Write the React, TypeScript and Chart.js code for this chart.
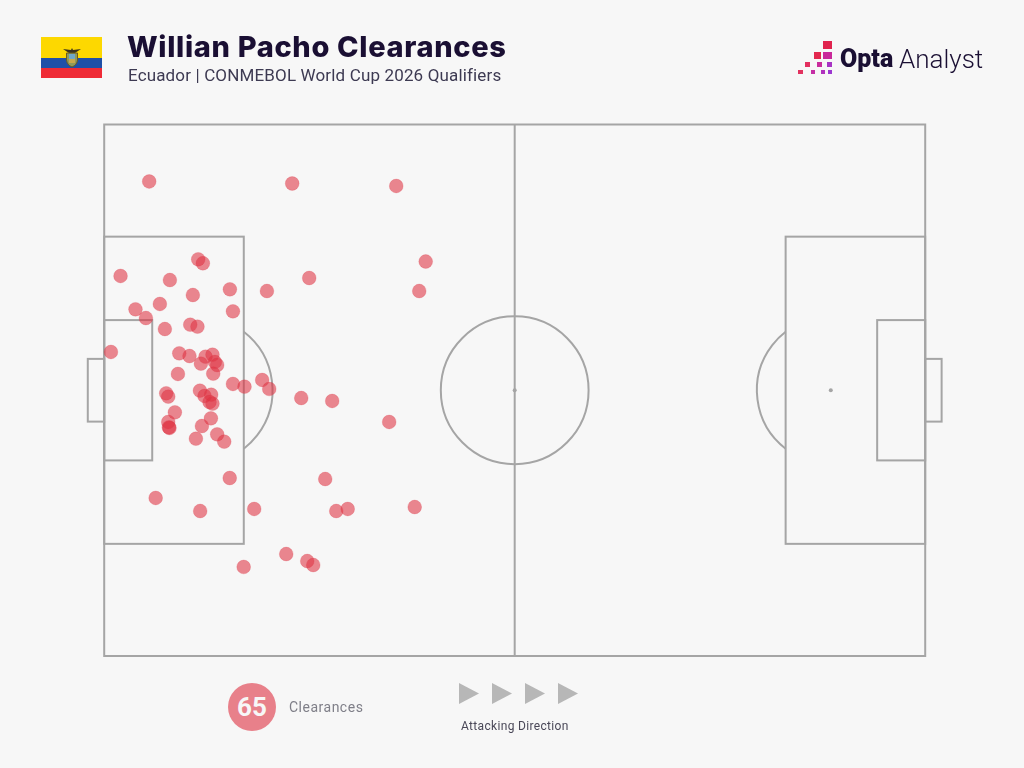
import React, { useEffect, useRef } from "react";
import { Chart, registerables } from "chart.js";

Chart.register(...registerables);

const playerName = "Willian Pacho Clearances";
const subtitle = "Ecuador | CONMEBOL World Cup 2026 Qualifiers";
const legendCount = "65";
const legendLabel = "Clearances";
const directionLabel = "Attacking Direction";

// Clearance locations in pitch units (0–100 on each axis)
const clearanceX = [
  5.48, 22.9, 35.57, 11.45, 12.02, 1.99, 8.0, 10.8, 15.31, 19.82, 6.78, 3.81, 5.08, 15.68, 7.39, 10.48, 11.36,
  0.82, 9.14, 10.39, 12.34, 13.19, 11.78, 13.48, 13.76, 13.28, 8.98, 15.68, 17.09, 19.24, 20.1, 7.55, 7.8,
  11.66, 12.22, 13.03, 12.83, 13.19, 8.61, 13.0, 7.8, 7.88, 7.95, 11.9, 11.17, 13.76, 14.62, 24.0, 27.77,
  34.71, 39.16, 38.37, 24.97, 15.29, 26.92, 6.27, 11.69, 18.27, 28.26, 29.66, 37.82, 22.17, 24.73, 25.46, 16.99,
];
const clearanceY = [
  89.28, 88.9, 88.43, 74.64, 73.89, 71.5, 70.74, 67.92, 68.99, 68.67, 66.23, 65.23, 63.59, 64.85, 61.52, 62.33, 61.96,
  57.2, 56.95, 56.44, 56.31, 56.69, 55.0, 55.32, 54.75, 53.11, 53.06, 51.18, 50.67, 51.93, 50.24, 49.43, 48.79,
  49.92, 48.92, 49.16, 47.79, 47.47, 45.85, 44.72, 44.03, 43.03, 42.9, 43.27, 40.88, 41.71, 40.32, 48.54, 47.98,
  44.03, 74.22, 68.67, 71.12, 33.49, 33.3, 29.73, 27.28, 27.66, 27.28, 27.66, 28.03, 19.19, 17.87, 17.12, 16.75,
];

// Pitch markings, in the same units: [x0, y0, x1, y1]
const pitchRects = [
  [0, 0, 100, 100],
  [0, 21.1, 17, 78.9],
  [0, 36.8, 5.85, 63.2],
  [-2.0, 44.1, 0, 55.9],
  [83, 21.1, 100, 78.9],
  [94.15, 36.8, 100, 63.2],
  [100, 44.1, 102, 55.9],
];
const halfwayX = 50;
const centreSpot = [50, 50];
const penaltySpots = [[11.5, 50], [88.5, 50]];
const circleRadiusX = 9;
const boxEdges = [17, 83];

const pitchPlugin = {
  id: "pitch",
  beforeDatasetsDraw(chart: any) {
    const { ctx, scales } = chart;
    const X = (v: number) => scales.x.getPixelForValue(v);
    const Y = (v: number) => scales.y.getPixelForValue(v);
    const r = X(circleRadiusX) - X(0);
    ctx.save();
    ctx.strokeStyle = "#a5a5a5";
    ctx.lineWidth = 2;
    for (const [x0, y0, x1, y1] of pitchRects) {
      ctx.strokeRect(X(x0), Y(y1), X(x1) - X(x0), Y(y0) - Y(y1));
    }
    ctx.beginPath();
    ctx.moveTo(X(halfwayX), Y(0));
    ctx.lineTo(X(halfwayX), Y(100));
    ctx.stroke();
    ctx.beginPath();
    ctx.arc(X(centreSpot[0]), Y(centreSpot[1]), r, 0, Math.PI * 2);
    ctx.stroke();
    penaltySpots.forEach(([sx, sy], i) => {
      const dx = Math.abs(X(boxEdges[i]) - X(sx));
      const a = Math.acos(dx / r);
      ctx.beginPath();
      if (i === 0) ctx.arc(X(sx), Y(sy), r, -a, a);
      else ctx.arc(X(sx), Y(sy), r, Math.PI - a, Math.PI + a);
      ctx.stroke();
    });
    ctx.fillStyle = "#a5a5a5";
    for (const [sx, sy] of [centreSpot, penaltySpots[1]]) {
      ctx.beginPath();
      ctx.arc(X(sx), Y(sy), 2, 0, Math.PI * 2);
      ctx.fill();
    }
    ctx.restore();
  },
};

const abs = (left: number, top: number, extra: React.CSSProperties = {}): React.CSSProperties => ({
  position: "absolute",
  left,
  top,
  whiteSpace: "nowrap",
  ...extra,
});

const logoSquares = [
  [822.5, 41, 9.5, 8, "#e0234e"],
  [814, 52, 7, 7, "#e3284f"],
  [823, 52, 9, 7, "#c9289a"],
  [805, 62, 5, 5, "#e3305f"],
  [816.5, 62, 5, 5, "#c92c9c"],
  [827, 62, 5, 5, "#a834c4"],
  [798, 70, 4.5, 4, "#e2325f"],
  [810.5, 70, 4, 4, "#c52ea5"],
  [820.5, 70, 4, 4, "#b032bd"],
  [828, 70, 4, 4, "#9c37d0"],
] as const;

const arrowLefts = [459, 492, 525, 558];

export default function App() {
  const ref = useRef<HTMLCanvasElement>(null);
  useEffect(() => {
    const chart = new Chart(ref.current!, {
      type: "scatter",
      data: {
        datasets: [
          {
            label: legendLabel,
            data: clearanceX.map((x, i) => ({ x, y: clearanceY[i] })),
            backgroundColor: "rgba(222,50,66,0.58)",
            borderColor: "rgba(222,50,66,0.2)",
            borderWidth: 1,
            pointRadius: 6.9,
            clip: false,
          } as any,
        ],
      },
      options: {
        animation: false,
        responsive: false,
        layout: { padding: { left: 104.2, right: 98.8, top: 124.5, bottom: 112 } },
        plugins: { legend: { display: false }, tooltip: { enabled: false } },
        scales: {
          x: { type: "linear", min: 0, max: 100, display: false },
          y: { type: "linear", min: 0, max: 100, display: false },
        },
      },
      plugins: [pitchPlugin],
    });
    return () => chart.destroy();
  }, []);

  return (
    <div style={{ position: "fixed", left: 0, top: 0, width: 1024, height: 768, background: "#f7f7f7", overflow: "hidden", fontFamily: "Roboto, sans-serif" }}>
      <canvas ref={ref} width={1024} height={768} style={{ position: "absolute", left: 0, top: 0, display: "block" }} />

      {/* Flag */}
      <div style={abs(41, 37, { width: 61, height: 20.5, background: "#fdd800" })} />
      <div style={abs(41, 57.5, { width: 61, height: 10.5, background: "#1f50a8" })} />
      <div style={abs(41, 68, { width: 61, height: 10, background: "#ef2b36" })} />
      <svg style={abs(62, 46)} width={20} height={22} viewBox="0 0 20 22">
        <path d="M1 3 L9 4 L10 2 L11 4 L19 3 L13 7 L7 7 Z" fill="#3a3320" />
        <path d="M4.5 7 H15.5 V14 Q15 19 10 21 Q5 19 4.5 14 Z" fill="#8f9a5a" stroke="#6b5a20" strokeWidth="1" />
        <rect x="7" y="8" width="6" height="5" fill="#6fa7c8" />
        <rect x="7" y="13" width="6" height="4" fill="#c9a94a" />
      </svg>

      {/* Heading */}
      <div style={abs(127, 29, { fontFamily: "Inter, sans-serif", fontSize: 29, lineHeight: "36px", fontWeight: 800, letterSpacing: 0.66, color: "#1a0f33" })}>{playerName}</div>
      <div style={abs(128, 65, { fontSize: 17, lineHeight: "20px", fontWeight: 400, letterSpacing: 0.15, color: "#3d3a52" })}>{subtitle}</div>

      {/* Logo */}
      {logoSquares.map(([l, t, w, h, c], i) => (
        <div key={i} style={abs(l, t, { width: w, height: h, background: c })} />
      ))}
      <div style={abs(840, 41, { fontSize: 25, lineHeight: "36px", fontWeight: 900, color: "#1a0f33" })}>Opta</div>
      <div style={abs(899, 41, { fontSize: 26, lineHeight: "36px", fontWeight: 300, color: "#1a0f33" })}>Analyst</div>

      {/* Legend */}
      <div style={abs(228, 683, { width: 48, height: 48, borderRadius: "50%", background: "#e8808a", color: "#f7f7f7", fontSize: 26, fontWeight: 700, lineHeight: "48px", textAlign: "center" })}>{legendCount}</div>
      <div style={abs(289, 699, { fontSize: 14, lineHeight: "17px", letterSpacing: 0.5, color: "#7f7f88" })}>{legendLabel}</div>

      {/* Attacking direction */}
      {arrowLefts.map((l) => (
        <svg key={l} style={abs(l, 683)} width={20} height={21} viewBox="0 0 20 21">
          <path d="M0 0 L20 10.5 L0 21 Z" fill="#b7b7b7" />
        </svg>
      ))}
      <div style={abs(461, 719, { fontSize: 12, lineHeight: "15px", letterSpacing: 0.33, color: "#4a4858" })}>{directionLabel}</div>
    </div>
  );
}
